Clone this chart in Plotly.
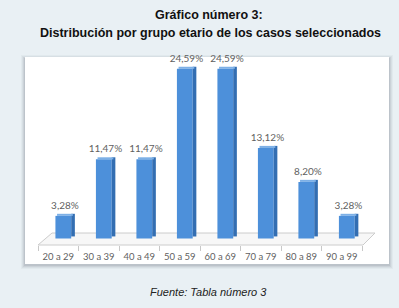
import plotly.graph_objects as go

categories = ["20 a 29", "30 a 39", "40 a 49", "50 a 59", "60 a 69", "70 a 79", "80 a 89", "90 a 99"]
values = [3.28, 11.47, 11.47, 24.59, 24.59, 13.12, 8.20, 3.28]
labels = ["3,28%", "11,47%", "11,47%", "24,59%", "24,59%", "13,12%", "8,20%", "3,28%"]

W, H = 399, 308
L, R, T, B = 38, 37, 60, 63
PW, PH = W - L - R, H - T - B


def xp(px):
    return (px - L) / PW


def yp(py):
    return (H - B - py) / PH


front_col = "#4d90da"
side_col = "#336eb2"
top_col = "#7db0e6"
depth = 0.3

fig = go.Figure()
fig.add_trace(go.Bar(x=categories, y=values, width=0.39, offset=-0.07,
                     marker=dict(color=front_col, line=dict(width=0)),
                     hoverinfo="skip"))
fig.add_trace(go.Bar(x=categories, y=values, base=[depth] * len(values), width=0.09, offset=0.32,
                     marker=dict(color=side_col, line=dict(width=0)),
                     hoverinfo="skip"))
fig.add_trace(go.Bar(x=categories, y=[depth] * len(values), base=values, width=0.39, offset=-0.03,
                     marker=dict(color=top_col, line=dict(width=0)),
                     text=labels, textposition="outside", cliponaxis=False, constraintext="none",
                     textfont=dict(family="Lato", size=10, color="#5f5f5f"),
                     hoverinfo="skip"))

shapes = []
# shadow + white box
for d, a in [(4, 0.04), (3, 0.06), (2, 0.08), (1, 0.10)]:
    shapes.append(dict(type="rect", xref="paper", yref="paper", layer="below",
                       x0=xp(25 - d), x1=xp(389 + d), y0=yp(264 + d + 1), y1=yp(57 - d + 2),
                       fillcolor=f"rgba(60,70,80,{a})", line=dict(width=0)))
shapes.append(dict(type="rect", xref="paper", yref="paper", layer="below",
                   x0=xp(25), x1=xp(389), y0=yp(264), y1=yp(57),
                   fillcolor="white", line=dict(width=0)))
# floor
fl = [(38, 245), (363, 245), (375, 233), (52, 233)]
path = "M " + " L ".join(f"{xp(a)},{yp(b)}" for a, b in fl) + " Z"
shapes.append(dict(type="path", xref="paper", yref="paper", layer="below", path=path,
                   fillcolor="#f7f7f7", line=dict(color="#cccccc", width=1)))

title_font = dict(family="Liberation Sans", size=12.5, color="#111111")
annotations = [
    dict(text="<b>Gráfico número 3:</b>", xref="paper", yref="paper", x=xp(209), y=yp(15),
         xanchor="center", yanchor="middle", showarrow=False, font=title_font),
    dict(text="<b>Distribución por grupo etario de los casos seleccionados</b>", xref="paper", yref="paper",
         x=xp(210), y=yp(33), xanchor="center", yanchor="middle", showarrow=False, font=title_font),
    dict(text="<i>Fuente: Tabla número 3</i>", xref="paper", yref="paper", x=xp(208), y=yp(292),
         xanchor="center", yanchor="middle", showarrow=False,
         font=dict(family="Liberation Sans", size=11, color="#222222")),
]

fig.update_layout(
    width=W, height=H, margin=dict(l=L, r=R, t=T, b=B),
    paper_bgcolor="#e9f0f4", plot_bgcolor="rgba(0,0,0,0)",
    showlegend=False, barmode="overlay",
    shapes=shapes, annotations=annotations,
    xaxis=dict(type="category", range=[-0.5, 7.5], showgrid=False, zeroline=False, showline=False,
               ticks="outside", tickson="boundaries", ticklen=5, tickcolor="#c8c8c8", tickangle=0,
               ticklabelstandoff=4,
               tickfont=dict(family="Lato", size=9.5, color="#5f5f5f"), fixedrange=True),
    yaxis=dict(range=[-0.942, 25.87], visible=False, fixedrange=True),
)

fig.write_html("out.html", config={"displayModeBar": False},
               post_script="document.body.style.margin='0';")
